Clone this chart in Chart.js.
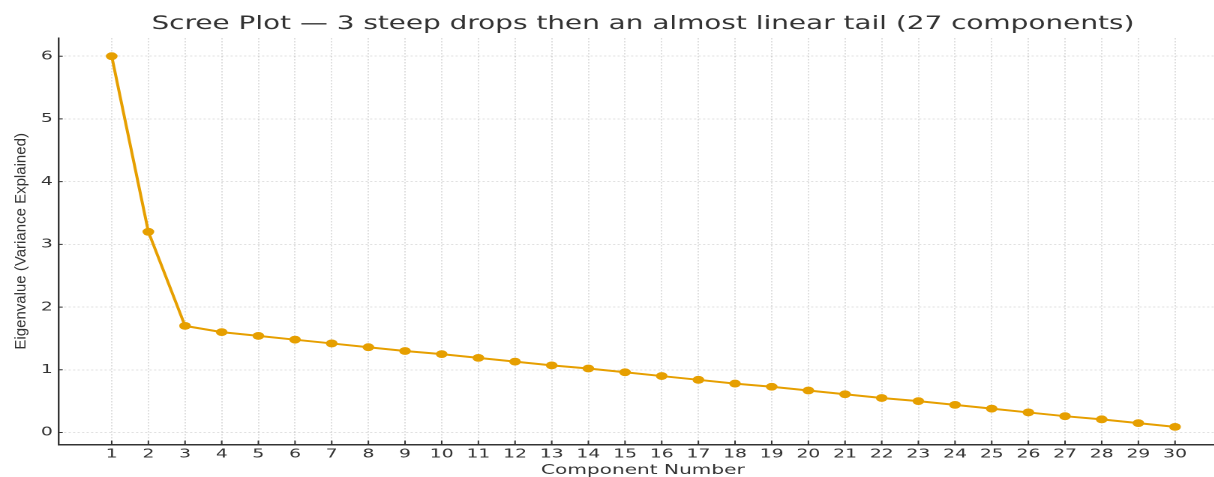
<!DOCTYPE html>
<html>
<head>
<meta charset="utf-8">
<script src="https://cdn.jsdelivr.net/npm/chart.js@4.4.1/dist/chart.umd.min.js"></script>
<style>
  html, body { margin: 0; padding: 0; background: #ffffff; overflow: hidden; width: 1214px; height: 477px; }
  #wrap { position: absolute; left: 0; top: 0; width: 818px; height: 477px;
          transform: scaleX(1.5); transform-origin: 0 0; }
  canvas { display: block; }
</style>
</head>
<body>
<div id="wrap"><canvas id="c"></canvas></div>
<script>
const titleText = 'Scree Plot \u2014 3 steep drops then an almost linear tail (27 components)';
const xTitle = 'Component Number';
const yTitle = 'Eigenvalue (Variance Explained)';
const components = [1, 2, 3, 4, 5, 6, 7, 8, 9, 10, 11, 12, 13, 14, 15, 16, 17, 18, 19, 20, 21, 22, 23, 24, 25, 26, 27, 28, 29, 30];
const eigenvalues = [6.00, 3.20, 1.70, 1.60, 1.54, 1.48, 1.42, 1.36, 1.30, 1.25, 1.19, 1.13, 1.07, 1.02, 0.96, 0.90, 0.84, 0.78, 0.73, 0.67, 0.61, 0.55, 0.50, 0.44, 0.38, 0.32, 0.26, 0.21, 0.15, 0.09];
const yTicks = [0, 1, 2, 3, 4, 5, 6];

const STRETCH = 1.5;
const TEXT = '#333333';
const LINE = '#E69F00';
const GRID = 'rgba(0,0,0,0.16)';

const points = components.map((c, i) => ({ x: c, y: eigenvalues[i] }));

const innerTicks = {
  id: 'innerTicks',
  afterDraw(chart) {
    const ctx = chart.ctx;
    const xs = chart.scales.x, ys = chart.scales.y, a = chart.chartArea;
    ctx.save();
    ctx.strokeStyle = TEXT;
    ctx.lineWidth = 1;
    ctx.beginPath();
    components.forEach(v => {
      const px = xs.getPixelForValue(v);
      ctx.moveTo(px, a.bottom);
      ctx.lineTo(px, a.bottom - 4);
    });
    yTicks.forEach(v => {
      const py = ys.getPixelForValue(v);
      ctx.moveTo(a.left, py);
      ctx.lineTo(a.left + 4 / STRETCH, py);
    });
    ctx.stroke();
    ctx.restore();
  }
};

const yLabel = {
  id: 'yLabel',
  afterDraw(chart) {
    const ctx = chart.ctx, a = chart.chartArea;
    ctx.save();
    ctx.translate(14, (a.top + a.bottom) / 2);
    ctx.scale(1 / STRETCH, 1);
    ctx.rotate(-Math.PI / 2);
    ctx.font = '15px "Liberation Sans", Arial, sans-serif';
    ctx.fillStyle = TEXT;
    ctx.textAlign = 'center';
    ctx.textBaseline = 'middle';
    ctx.fillText(yTitle, 0, 0);
    ctx.restore();
  }
};

new Chart(document.getElementById('c'), {
  type: 'line',
  data: {
    datasets: [{
      data: points,
      borderColor: LINE,
      backgroundColor: LINE,
      borderWidth: 2,
      pointRadius: 3.9,
      pointHoverRadius: 3.9,
      pointBorderWidth: 0,
      tension: 0,
      fill: false,
      clip: false
    }]
  },
  plugins: [innerTicks, yLabel],
  options: {
    responsive: true,
    maintainAspectRatio: false,
    devicePixelRatio: 2,
    animation: false,
    layout: { autoPadding: false, padding: { left: 23.2, right: 0, top: 0, bottom: 0 } },
    plugins: {
      legend: { display: false },
      tooltip: { enabled: false },
      title: {
        display: true,
        text: titleText,
        fullSize: false,
        color: TEXT,
        font: { family: '"DejaVu Sans", sans-serif', size: 18.6, weight: 'normal', lineHeight: 1.2 },
        padding: { top: 13, bottom: 2.7 }
      }
    },
    scales: {
      x: {
        type: 'linear',
        min: -0.445,
        max: 31.417,
        afterBuildTicks: s => { s.ticks = components.map(v => ({ value: v })); },
        afterFit: s => { s.paddingLeft = 0; s.paddingRight = 0; },
        ticks: {
          color: TEXT,
          font: { family: '"DejaVu Sans", sans-serif', size: 12.5 },
          padding: 2,
          autoSkip: false,
          maxRotation: 0,
          callback: v => String(v)
        },
        grid: { color: GRID, lineWidth: 0.8, drawTicks: false, tickLength: 0 },
        border: { display: true, color: TEXT, width: 1.5, dash: [1.5, 1.5] },
        title: {
          display: true,
          text: xTitle,
          color: TEXT,
          font: { family: '"DejaVu Sans", sans-serif', size: 13.4, lineHeight: 1.0 },
          padding: { top: 0, bottom: 0 }
        }
      },
      y: {
        type: 'linear',
        min: -0.193,
        max: 6.29,
        afterBuildTicks: s => { s.ticks = yTicks.map(v => ({ value: v })); },
        ticks: {
          color: TEXT,
          font: { family: '"DejaVu Sans", sans-serif', size: 12.5 },
          padding: 4,
          callback: v => String(v)
        },
        grid: { color: GRID, lineWidth: 0.8, drawTicks: false, tickLength: 0 },
        border: { display: true, color: TEXT, width: 1.2, dash: [1.5, 1.5] }
      }
    }
  }
});
</script>
</body>
</html>
